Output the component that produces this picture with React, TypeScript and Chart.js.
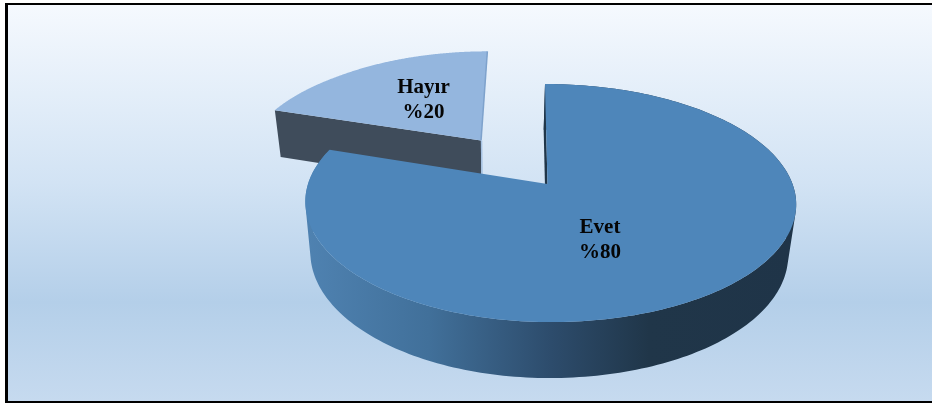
import React, { useEffect, useRef } from "react";
import { Chart, registerables } from "chart.js";

Chart.register(...registerables);

const categories = ["Evet", "Hayır"];
const shares = [80, 20];
const faceColors = ["#4e86ba", "#94b6de"];

const EXPLODE = 0.247;
const LABEL_SPOTS = [
  [600, 240],
  [423.5, 100],
];

type Pt = [number, number];

// Perspective map of the pie's plane onto the picture, apex of the large slice as origin.
function topPoint(u: number, t: number): Pt {
  const w = 1 - 0.16 * t;
  const a = u < 0 ? 239.5 + 14 * Math.max(0, -u - 1) : 245;
  return [547.5 + (a * u + 2.9 * t) / w, 184 + (116 * t) / w];
}
function lowPoint(u: number, t: number): Pt {
  const [x, y] = topPoint(u, t);
  return [0.9735 * x + 13.1, y + 50 + (5 * t) / (1 - 0.16 * t)];
}

function addLoop(ctx: CanvasRenderingContext2D, pts: Pt[]) {
  pts.forEach(([x, y], i) => (i ? ctx.lineTo(x, y) : ctx.moveTo(x, y)));
  ctx.closePath();
}
function tracePath(ctx: CanvasRenderingContext2D, pts: Pt[]) {
  ctx.beginPath();
  addLoop(ctx, pts);
}
function signedArea(pts: Pt[]) {
  let a = 0;
  pts.forEach(([x, y], i) => {
    const [nx, ny] = pts[(i + 1) % pts.length];
    a += x * ny - nx * y;
  });
  return a;
}

const pie3d = {
  id: "pie3d",
  beforeDraw(chart: any) {
    const { ctx, width, height } = chart;
    ctx.save();
    ctx.fillStyle = "#ffffff";
    ctx.fillRect(0, 0, width, height);
    ctx.fillStyle = "#000000";
    ctx.fillRect(5, 3, width - 5, 400);
    const g = ctx.createLinearGradient(0, 5, 0, 401);
    g.addColorStop(0, "#f5f9fe");
    g.addColorStop(0.45, "#d2e3f4");
    g.addColorStop(0.75, "#b4cfe9");
    g.addColorStop(1, "#c6daef");
    ctx.fillStyle = g;
    ctx.fillRect(8, 5, width - 8, 396);
    ctx.restore();
  },
  beforeDatasetsDraw(chart: any) {
    const { ctx } = chart;
    const arcs = chart.getDatasetMeta(0).data as any[];
    const slices = arcs.map((arc, i) => {
      const from = arc.startAngle + Math.PI / 2;
      const to = arc.endAngle + Math.PI / 2;
      const mid = (from + to) / 2;
      return { i, from, to, ox: EXPLODE * Math.sin(mid), oy: -EXPLODE * Math.cos(mid), color: arc.options.backgroundColor };
    });
    const main = slices[0];
    const coord = (s: any, theta: number, r: number): [number, number] => [
      s.ox + r * Math.sin(theta) - main.ox,
      s.oy - r * Math.cos(theta) - main.oy,
    ];
    const rim = (s: any, fn: (u: number, t: number) => Pt): Pt[] => {
      const pts: Pt[] = [];
      const n = 240;
      for (let k = 0; k <= n; k++) {
        const th = s.from + ((s.to - s.from) * k) / n;
        const [u, t] = coord(s, th, 1);
        pts.push(fn(u, t));
      }
      return pts;
    };
    const face = (s: any): Pt[] => {
      const [u, t] = coord(s, 0, 0);
      return [topPoint(u, t), ...rim(s, topPoint)];
    };
    const radialWall = (s: any, theta: number): Pt[] => {
      const [au, at] = coord(s, 0, 0);
      const [bu, bt] = coord(s, theta, 1);
      return [topPoint(au, at), topPoint(bu, bt), lowPoint(bu, bt), lowPoint(au, at)];
    };

    ctx.save();
    // back slice
    const back = slices[1];
    tracePath(ctx, radialWall(back, back.from));
    ctx.fillStyle = "#3f4c5b";
    ctx.fill();
    tracePath(ctx, face(back));
    ctx.fillStyle = back.color;
    ctx.fill();
    const [au, at] = coord(back, 0, 0);
    const [eu, et] = coord(back, back.to, 1);
    const apex = topPoint(au, at);
    const edge = topPoint(eu, et);
    ctx.lineWidth = 1.5;
    ctx.strokeStyle = "#7ea2cc";
    ctx.beginPath();
    ctx.moveTo(edge[0], edge[1]);
    ctx.lineTo(apex[0], apex[1]);
    ctx.stroke();
    ctx.strokeStyle = "#a6c2e2";
    ctx.beginPath();
    ctx.moveTo(apex[0] + 0.5, apex[1]);
    ctx.lineTo(apex[0] + 1, apex[1] + 36);
    ctx.stroke();

    // front slice: outer wall as same-wound quads in one path, inner wall, top
    const wg = ctx.createLinearGradient(306, 0, 796, 0);
    wg.addColorStop(0, "#4f82b1");
    wg.addColorStop(0.25, "#41709a");
    wg.addColorStop(0.5, "#2d4c6c");
    wg.addColorStop(0.7, "#203649");
    wg.addColorStop(1, "#1f3448");
    const rimTop = rim(main, topPoint);
    const rimLow = rim(main, lowPoint);
    ctx.beginPath();
    for (let k = 0; k + 1 < rimTop.length; k++) {
      const quad: Pt[] = [rimTop[k], rimTop[k + 1], rimLow[k + 1], rimLow[k]];
      addLoop(ctx, signedArea(quad) < 0 ? quad.reverse() : quad);
    }
    ctx.fillStyle = wg;
    ctx.fill();
    tracePath(ctx, radialWall(main, main.from));
    ctx.fillStyle = "#203649";
    ctx.fill();
    tracePath(ctx, face(main));
    ctx.fillStyle = main.color;
    ctx.fill();

    // labels
    ctx.fillStyle = "#050505";
    ctx.font = 'bold 21px "Liberation Serif", serif';
    ctx.textAlign = "center";
    ctx.textBaseline = "middle";
    slices.forEach((s) => {
      const [x, y] = LABEL_SPOTS[s.i];
      ctx.fillText(String(chart.data.labels[s.i]), x, y - 12);
      ctx.fillText("%" + chart.data.datasets[0].data[s.i], x, y + 12.5);
    });
    ctx.restore();
    return false;
  },
};

export default function App() {
  const ref = useRef<HTMLCanvasElement>(null);
  useEffect(() => {
    const chart = new Chart(ref.current as HTMLCanvasElement, {
      type: "pie",
      data: {
        labels: categories,
        datasets: [{ data: shares, backgroundColor: faceColors, borderWidth: 0 }],
      },
      options: {
        responsive: false,
        animation: false,
        rotation: 0,
        plugins: { legend: { display: false }, tooltip: { enabled: false } },
      },
      plugins: [pie3d],
    } as any);
    return () => chart.destroy();
  }, []);
  return (
    <canvas
      ref={ref}
      width={932}
      height={405}
      style={{ position: "fixed", left: 0, top: 0, display: "block" }}
    />
  );
}
